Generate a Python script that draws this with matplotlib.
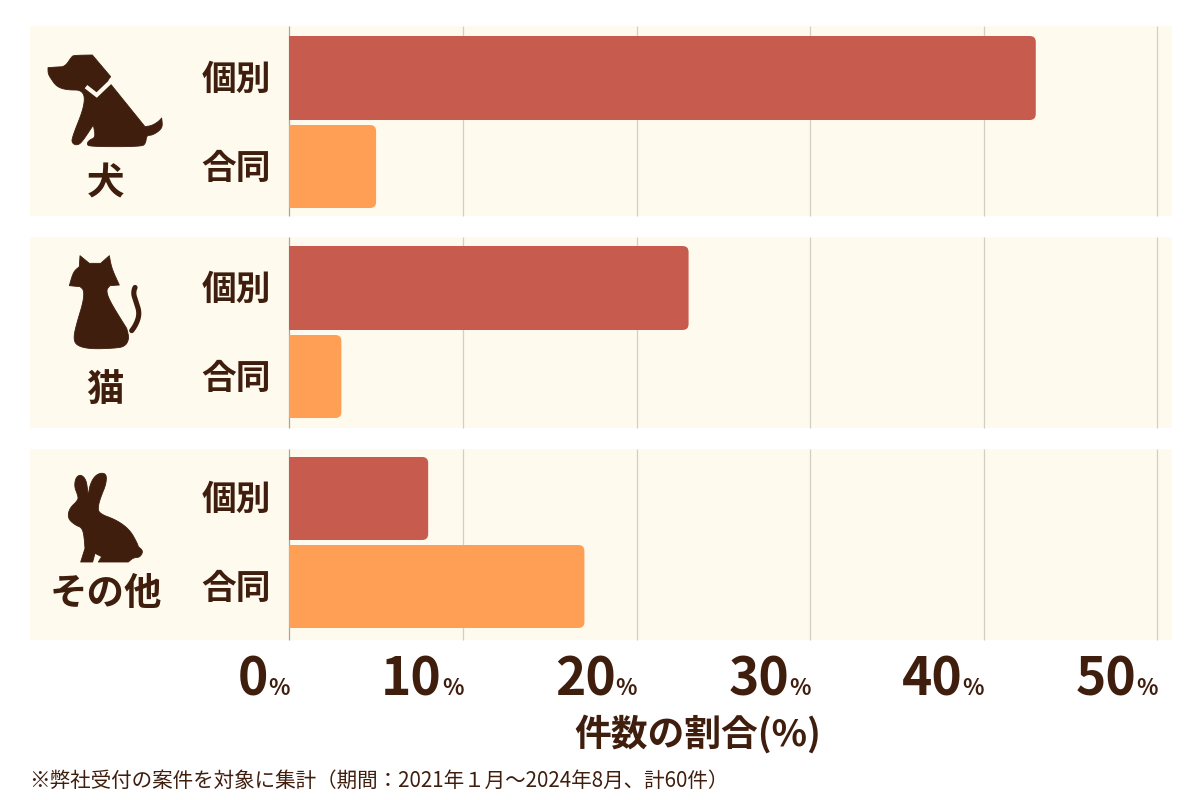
import matplotlib
matplotlib.use("Agg")
import matplotlib.pyplot as plt
from matplotlib.patches import FancyBboxPatch, Rectangle, Polygon

plt.rcParams['font.family'] = ['Noto Sans CJK JP', 'DejaVu Sans']

# 件数の割合 (%)
groups = ["犬", "猫", "その他"]
kinds = ["個別", "合同"]
kobetsu = [43, 23, 8]
goudou = [5, 3, 17]
ticks = [0, 10, 20, 30, 40, 50]

BROWN = "#3f1e0e"
PANEL = "#fefaee"
RED = "#c75c4e"
ORANGE = "#ff9f55"
GRID = "#d2cfc4"

W, H = 1200, 800
PX_PER_PCT = 17.36
X0 = 289.3

# パネルの位置 (px): 上端, 下端
panels = [(26, 216), (237, 428), (449, 640)]
bar_rows = [[(36, 120), (125, 208)], [(246, 330), (335, 418)], [(457, 540), (545, 628)]]
label_y = [(79, 168), (289, 378), (499, 588)]
group_y = [183, 389, 593]

# アイコンの輪郭 (原点 + 3倍座標)
dog = [(54, 113), (80, 111), (105, 110), (125, 80), (132, 76), (187, 75), (242, 140), (232, 152),
       (240, 160), (345, 290), (365, 287), (385, 275), (395, 264),
       (398, 290), (385, 305), (365, 316), (350, 316), (347, 340), (335, 350), (180, 350), (170, 342),
       (178, 330), (197, 322), (190, 285), (155, 338), (140, 346), (127, 340), (125, 325), (165, 225),
       (160, 180), (110, 180), (80, 170), (62, 145), (54, 130)]
dog_sharp = [0, 5, 6, 8, 9, 12, 23]
dog_collar = [(168, 170), (200, 195), (242, 155)]
cat = [(150, 62), (178, 85), (212, 85), (238, 62), (245, 100), (268, 150), (240, 152), (228, 165),
       (240, 200), (290, 280), (298, 310), (285, 335), (250, 340),
       (180, 342), (140, 332), (130, 310), (140, 265), (160, 200), (162, 165), (150, 155), (118, 152),
       (130, 110), (148, 95)]
cat_sharp = [0, 1, 2, 3, 5, 6, 19, 20, 22, 9]
cat_tail = [(295, 300), (318, 270), (329, 235), (318, 200), (309, 172), (320, 146)]
rabbit = [(133, 125), (137, 98), (152, 88), (168, 103), (173, 135), (175, 158), (178, 125), (192, 95),
          (212, 83), (230, 88), (228, 118), (214, 152), (205, 180), (205, 205), (260, 225), (300, 255),
          (322, 295), (325, 305), (340, 318), (330, 337), (310, 338), (295, 351), (205, 351), (215, 335),
          (195, 325), (188, 351), (152, 351), (165, 310), (160, 250), (135, 240), (113, 220), (118, 190),
          (145, 165), (143, 150)]
rabbit_sharp = [5, 17, 21, 22, 23, 24, 25, 26, 27]
icons = [(dog, dog_sharp, 30, 30), (cat, cat_sharp, 30, 235), (rabbit, rabbit_sharp, 30, 445)]


def smooth(pts, sharp=(), closed=True, n=3):
    # 角を丸める (sharp の点はそのまま残す)
    pts = [(p[0], p[1], i in sharp) for i, p in enumerate(pts)]
    for _ in range(n):
        out = []
        m = len(pts)
        for i in range(m):
            a, b = pts[i], pts[(i + 1) % m]
            if not closed and i == m - 1:
                break
            if a[2]:
                out.append(a)
            else:
                out.append((0.75 * a[0] + 0.25 * b[0], 0.75 * a[1] + 0.25 * b[1], False))
            if not b[2]:
                out.append((0.25 * a[0] + 0.75 * b[0], 0.25 * a[1] + 0.75 * b[1], False))
        pts = out
    return [(x, y) for x, y, _ in pts]


fig = plt.figure(figsize=(12, 8), dpi=100, facecolor="white")

# 全体をピクセル座標で使う
ax = fig.add_axes([0, 0, 1, 1])
ax.set_xlim(0, W)
ax.set_ylim(H, 0)
ax.axis("off")


def xpos(v):
    return X0 + v * PX_PER_PCT


values = [kobetsu, goudou]
for i, (top, bottom) in enumerate(panels):
    ax.add_patch(Rectangle((30, top), 1142, bottom - top, fc=PANEL, ec="none", zorder=1))
    for t in ticks:
        ax.plot([xpos(t), xpos(t)], [top, bottom], color="#aaa69c" if t == 0 else GRID, lw=0.9,
                zorder=2, solid_capstyle="butt")
    clip = Rectangle((X0, top), 1172 - X0, bottom - top, transform=ax.transData)
    for j, color in enumerate([RED, ORANGE]):
        y0, y1 = bar_rows[i][j]
        bar = FancyBboxPatch((X0 - 10, y0), values[j][i] * PX_PER_PCT + 10, y1 - y0,
                             boxstyle="round,pad=0,rounding_size=6", fc=color, ec="none", zorder=3)
        ax.add_patch(bar)
        bar.set_clip_path(clip)
        ax.text(236.5, label_y[i][j], kinds[j], fontsize=25, fontweight="bold", color=BROWN,
                ha="center", va="center")
    ax.text(105.5, group_y[i], groups[i], fontsize=27, fontweight="bold", color=BROWN,
            ha="center", va="center")

for outline, sharp, ox, oy in icons:
    pts = [(ox + x / 3, oy + y / 3) for x, y in smooth(outline, sharp)]
    ax.add_patch(Polygon(pts, closed=True, fc=BROWN, ec=BROWN, lw=0.6, joinstyle="round", zorder=4))

# 犬の首輪と猫のしっぽ
ax.plot([30 + x / 3 for x, y in dog_collar], [30 + y / 3 for x, y in dog_collar], color=PANEL, lw=3,
        solid_joinstyle="miter", solid_capstyle="butt", zorder=5)
tail = smooth(cat_tail, closed=False)
ax.plot([30 + x / 3 for x, y in tail], [235 + y / 3 for x, y in tail], color=BROWN, lw=3.7,
        solid_capstyle="round", zorder=4)

for t in ticks:
    ax.text(xpos(t) + 0.5, 695, "%", fontsize=16, fontweight="bold", color=BROWN, ha="right",
            va="baseline")
    ax.text(xpos(t) - 21, 695, str(t), fontsize=37, fontweight="bold", color=BROWN, ha="right",
            va="baseline")

ax.text(698, 734, "件数の割合(%)", fontsize=26.5, fontweight="bold", color=BROWN, ha="center", va="center")
ax.text(29, 781, "※弊社受付の案件を対象に集計（期間：2021年１月～2024年8月、計60件）", fontsize=14.8,
        color=BROWN, ha="left", va="center")

fig.savefig("out.png", dpi=100)
